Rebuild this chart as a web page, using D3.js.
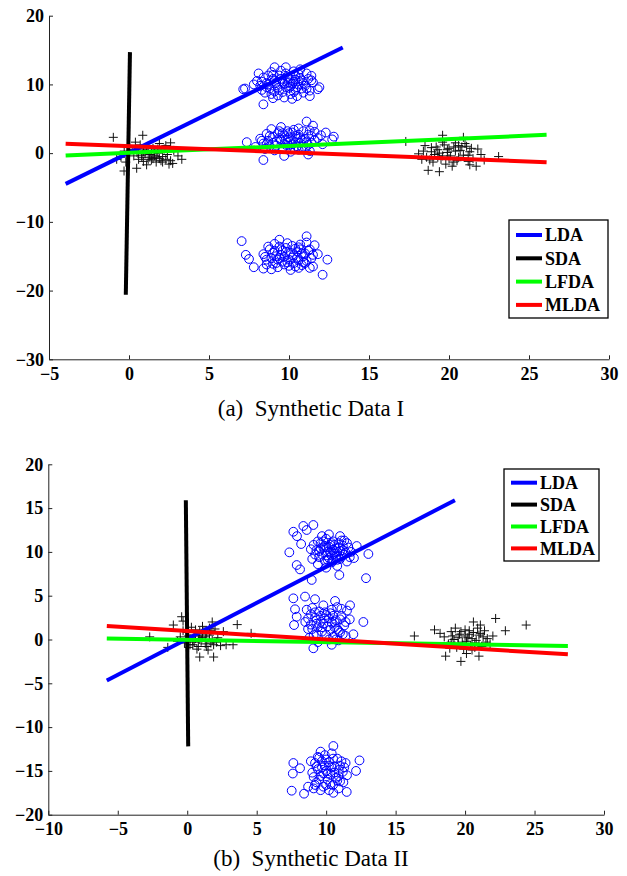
<!DOCTYPE html>
<html lang="en">
  <head>
    <meta charset="UTF-8" />
    <title>Synthetic Data projections</title>
    <script src="https://d3js.org/d3.v7.min.js"></script>
    <style>
      body {
        margin: 0;
        background: #fff;
      }
      .caption {
        font-family: 'Liberation Serif', 'Times New Roman', serif;
        font-size: 23px;
        white-space: pre;
      }
      .legend text {
        font-family: 'Liberation Serif', 'Times New Roman', serif;
        font-weight: bold;
        font-size: 18px;
      }
    </style>
  </head>
  <body>
    <div id="chart"></div>

    <script>
      // ---- shared ----
      const methods = ['LDA', 'SDA', 'LFDA', 'MLDA'];
      const methodColors = ['#0000ff', '#000000', '#00ff00', '#ff0000'];

      // ---- (a) Synthetic Data I ----
      const xTicksA = [-5, 0, 5, 10, 15, 20, 25, 30];
      const yTicksA = [-30, -20, -10, 0, 10, 20];

      const plusA1 = [
        [-0.98, 2.3], [0.86, 2.6], [-0.31, -2.6], [-0.77, -0.9], [3.06, -0.4], [0.48, -2.2], [2.73, -1.5],
        [0.2, 0.5], [0.5, 0.1], [0.8, -0.3], [1.1, 0.4], [1.3, -0.6], [1.6, 0.2], [1.9, -0.8], [2.2, 0.6],
        [2.4, -0.2], [0.6, -0.9], [0.9, -1.2], [1.4, -1.0], [1.7, -1.3], [2.0, -1.1], [2.5, -1.6], [1.2, 1.0],
        [0.7, 1.2], [1.9, 1.4], [2.3, 1.1], [0.3, -0.4], [-0.3, 0.3], [-0.5, -0.6], [1.0, -0.1], [1.5, 0.7],
        [2.8, 0.4], [2.6, 1.5], [0.4, 1.6], [1.8, 0.0], [1.1, -1.7], [2.1, -0.5], [0.0, 1.1], [-0.2, -1.3],
        [3.3, -0.9], [1.6, -0.4], [0.9, 0.6],
        [0.6, 0.3], [1.3, -0.2], [1.8, 0.6], [2.1, -1.3], [1.5, -0.8], [0.8, -0.6], [2.3, -0.9], [1.2, -0.9],
        [0.9, 0.2], [1.7, -0.6], [2.6, -1.1], [1.4, 0.4],
      ];
      const plusA2 = [
        [17.3, 1.7], [23.1, -0.5], [18.7, -2.5], [19.4, -2.7], [21.7, -1.9], [19.6, 2.6], [20.9, 2.3], [21.3, -1.7],
        [18.1, -0.1], [18.4, 0.3], [18.6, -0.6], [18.9, 0.8], [19.1, -0.2], [19.3, 0.5], [19.5, -0.9], [19.7, 1.2],
        [19.9, 0.1], [20.1, -0.4], [20.3, 0.9], [20.5, -1.1], [20.7, 0.4], [20.9, -0.3], [21.1, 1.0], [21.3, 0.2],
        [21.5, -0.8], [19.0, -1.3], [19.8, -1.6], [20.4, 1.5], [18.5, 1.1], [21.8, 0.6], [22.0, -0.2], [19.4, 0.0],
        [20.0, 0.7], [20.6, -0.6], [18.8, -1.0], [21.2, -1.2], [19.6, 1.6], [20.2, -1.9], [18.3, -0.9], [21.0, 1.4],
        [22.2, -1.0],
        [18.9, 0.2], [19.2, 0.9], [19.6, -0.4], [20.0, -0.8], [20.4, 0.3], [20.8, 0.9], [21.2, -0.3], [19.3, -0.6],
        [20.6, 1.1], [21.4, 0.7], [19.9, 0.5], [20.3, -1.3],
      ];
      const circA1 = [
        [7.14, 9.3], [8.4, 7.1], [9.1, 12.5], [9.8, 12.5], [11.8, 9.3], [11.4, 11.25], [11.9, 9.6], [7.25, 9.4],
        [8.0, 10.5], [8.2, 9.8], [8.4, 11.0], [8.6, 10.2], [8.8, 9.4], [9.0, 10.8], [9.2, 9.9], [9.4, 11.3],
        [9.6, 10.4], [9.8, 9.6], [10.0, 10.9], [10.2, 10.1], [10.4, 9.2], [10.6, 11.5], [10.8, 10.6], [11.0, 9.8],
        [11.2, 10.8], [9.3, 8.4], [9.7, 8.1], [10.1, 8.6], [10.5, 8.3], [10.9, 8.8], [11.3, 9.1], [8.5, 8.8],
        [8.1, 11.6], [9.5, 12.0], [10.3, 11.9], [10.7, 12.2], [11.1, 11.6], [7.8, 10.0], [8.9, 11.8], [9.9, 10.2],
        [10.0, 9.5], [9.1, 9.0], [10.6, 10.0], [11.5, 10.3], [8.3, 9.2], [9.6, 8.9], [10.4, 10.7], [8.7, 11.3],
        [11.3, 8.3], [10.2, 7.9], [9.0, 8.0],
        [8.3, 10.4], [8.7, 10.0], [9.1, 10.5], [9.3, 9.5], [9.5, 10.8], [9.7, 10.1], [9.9, 11.1], [10.1, 9.7],
        [10.3, 10.4], [10.5, 9.6], [10.7, 10.9], [10.9, 10.2], [11.1, 9.4], [9.0, 11.4], [9.8, 11.6], [10.4, 11.3],
        [8.6, 9.6], [9.4, 9.2], [10.8, 9.4], [11.4, 10.6], [9.2, 10.2], [10.0, 10.3], [10.6, 10.5], [8.9, 8.6],
        [10.3, 8.9],
      ];
      const circA2 = [
        [7.36, 1.6], [8.4, -1.0], [9.7, -0.4], [11.2, -0.2], [12.7, 2.0], [11.1, 4.6], [12.8, 2.4], [7.9, 0.9],
        [8.2, 2.1], [8.4, 1.4], [8.6, 2.8], [8.8, 1.0], [9.0, 2.4], [9.2, 1.7], [9.4, 3.2], [9.6, 0.8],
        [9.8, 2.0], [10.0, 2.9], [10.2, 1.3], [10.4, 2.5], [10.6, 3.6], [10.8, 1.9], [11.0, 0.7], [11.2, 2.7],
        [11.4, 1.5], [11.6, 3.1], [11.8, 2.2], [9.1, 0.4], [9.5, 3.8], [10.1, 0.2], [10.5, 1.0], [10.9, 3.2],
        [9.3, 2.9], [9.9, 1.5], [10.3, 3.4], [10.7, 2.2], [11.3, 0.3], [8.9, 3.5], [8.5, 0.6], [12.1, 1.3],
        [12.3, 3.0], [11.5, 4.0], [9.7, 2.6], [10.0, 1.1], [10.6, 0.5], [11.1, 1.7], [8.7, 1.8],
        [8.3, 1.8], [8.8, 2.5], [9.2, 1.1], [9.4, 2.2], [9.6, 2.9], [9.8, 1.2], [10.0, 2.3], [10.2, 3.0],
        [10.4, 1.6], [10.6, 2.7], [10.8, 0.9], [11.0, 2.1], [11.2, 1.2], [11.4, 2.5], [11.6, 1.9], [9.0, 1.5],
        [9.5, 1.9], [10.1, 2.0], [10.7, 1.5], [11.3, 3.3], [9.9, 3.2], [10.5, 2.1], [8.6, 1.3], [12.0, 2.6],
        [10.3, 0.8],
      ];
      const circA3 = [
        [7.04, -12.8], [7.3, -14.8], [7.5, -15.4], [7.8, -16.6], [8.4, -16.8], [12.4, -15.5], [12.1, -17.7],
        [11.1, -12.1], [9.4, -12.6], [10.6, -16.7],
        [8.4, -14.7], [8.6, -15.5], [8.8, -14.0], [9.0, -16.1], [9.2, -15.0], [9.4, -13.6], [9.6, -15.8],
        [9.8, -14.4], [10.0, -16.4], [10.2, -15.2], [10.4, -13.9], [10.6, -15.6], [10.8, -14.6], [11.0, -16.0],
        [11.2, -14.2], [11.4, -15.3], [11.6, -13.4], [9.1, -13.2], [9.9, -13.1], [10.7, -13.3], [11.5, -16.5],
        [9.3, -16.6], [10.1, -17.0], [8.9, -16.9], [11.8, -14.7], [9.5, -14.8], [10.3, -14.9], [10.9, -15.9],
        [9.7, -16.2], [10.5, -14.3], [8.7, -13.6], [11.1, -13.0], [9.0, -14.5], [10.0, -15.5], [11.3, -16.7],
        [9.4, -15.3],
        [8.5, -15.1], [8.9, -15.3], [9.1, -14.2], [9.3, -15.5], [9.5, -14.0], [9.7, -15.1], [9.9, -15.9],
        [10.1, -14.5], [10.3, -16.0], [10.5, -15.2], [10.7, -14.0], [10.9, -15.0], [11.1, -15.7], [11.3, -14.0],
        [11.5, -14.8], [9.8, -13.8], [10.4, -16.5], [10.8, -16.3], [9.2, -16.0], [10.6, -13.7], [11.0, -14.6],
        [9.6, -14.2], [10.2, -13.5], [8.6, -16.2],
      ];
      // projection directions, as two end points each (LDA, SDA, LFDA, MLDA)
      const linesA = [
        [[-3.96, -4.47], [13.36, 15.37]],
        [[-0.2, -20.6], [0.06, 14.7]],
        [[-3.96, -0.35], [26.1, 2.66]],
        [[-3.96, 1.35], [26.1, -1.31]],
      ];

      // ---- (b) Synthetic Data II ----
      const xTicksB = [-10, -5, 0, 5, 10, 15, 20, 25, 30];
      const yTicksB = [-20, -15, -10, -5, 0, 5, 10, 15, 20];

      const plusB1 = [
        [-0.4, 2.6], [-1.0, 1.65], [3.6, 1.7], [4.6, 0.7], [1.8, 2.0], [0.9, -2.0], [1.9, -2.0], [3.3, -0.6],
        [2.8, -0.6], [-1.4, -0.9], [-2.7, 0.3], [-0.3, 2.1],
        [-0.5, 0.3], [-0.2, -0.4], [0.0, 0.8], [0.2, 0.1], [0.4, -0.6], [0.6, 1.1], [0.8, 0.4], [1.0, -0.2],
        [1.2, 0.9], [1.4, -0.8], [1.6, 0.5], [1.8, -0.1], [2.0, 1.2], [0.3, 1.4], [0.7, -1.1], [1.1, 1.5],
        [1.5, -1.2], [0.1, -0.9], [0.9, 0.0], [1.3, 0.3], [-0.3, 1.0], [2.2, 0.2], [2.4, -0.7], [1.7, 1.0],
        [0.5, 0.5], [1.9, -0.6], [-0.7, -0.2], [1.0, 0.7], [0.4, -0.1], [2.6, 0.9],
        [0.1, 0.4], [0.5, -0.3], [0.9, 0.9], [1.1, 0.2], [1.4, 0.8], [1.7, -0.4], [0.2, -0.6], [0.6, 0.1],
        [1.3, -0.5], [0.8, -0.8], [2.1, -0.3], [1.6, 1.3],
      ];
      const plusB2 = [
        [16.35, 0.4], [22.2, 2.4], [22.9, 1.0], [24.4, 1.65], [21.1, 1.65], [20.6, 2.0], [17.8, 1.1], [18.6, -1.9],
        [19.7, -2.5], [21.0, -1.9], [20.1, -1.6],
        [18.5, 0.3], [18.8, -0.5], [19.0, 0.9], [19.2, 0.0], [19.4, -0.9], [19.6, 0.6], [19.8, -0.3], [20.0, 1.1],
        [20.2, 0.2], [20.4, -0.7], [20.6, 0.8], [20.8, -0.1], [21.0, 0.5], [21.2, -0.8], [21.4, 1.0], [21.6, 0.1],
        [19.3, 1.3], [20.9, 1.3], [19.9, -1.1], [20.5, -1.2], [18.2, 0.7], [21.8, -0.5], [22.0, 0.4], [20.3, 0.6],
        [19.5, 0.2], [20.7, -0.4], [18.9, -1.0], [21.3, 0.3],
        [19.1, 0.4], [19.5, -0.5], [19.7, 0.9], [20.1, -0.2], [20.3, 1.0], [20.5, 0.1], [20.7, -0.9], [21.1, 0.7],
        [21.5, -0.3], [19.0, -0.3], [20.0, 0.4], [21.0, -0.6],
      ];
      const circB1 = [
        [7.64, 12.3], [8.36, 12.96], [9.08, 13.07], [7.35, 9.95], [7.88, 8.5], [8.12, 8.0], [8.96, 6.8],
        [10.95, 7.36], [12.87, 7.0], [13.04, 9.76], [12.2, 10.67], [7.9, 11.8], [8.6, 12.5], [8.2, 10.9],
        [9.3, 10.2], [9.5, 9.4], [9.6, 11.0], [9.8, 10.5], [9.9, 9.0], [10.0, 11.5], [10.1, 10.0], [10.2, 9.3],
        [10.3, 10.8], [10.4, 8.8], [10.5, 11.2], [10.6, 9.8], [10.7, 10.4], [10.8, 9.1], [10.9, 11.0],
        [11.0, 10.1], [11.1, 9.5], [11.2, 10.7], [11.4, 9.9], [11.6, 10.5], [9.4, 8.6], [9.7, 11.8], [10.2, 12.0],
        [11.0, 11.8], [11.5, 8.9], [9.2, 9.7], [10.5, 10.2], [9.9, 10.7], [10.8, 8.4], [11.3, 11.3], [8.9, 10.3],
        [9.0, 9.2], [10.4, 9.6], [11.8, 10.0], [10.0, 8.2], [12.0, 9.3],
        [9.5, 10.1], [9.7, 9.7], [9.8, 11.2], [10.0, 10.5], [10.1, 9.1], [10.3, 9.9], [10.4, 11.0], [10.6, 10.8],
        [10.7, 9.5], [10.9, 10.5], [11.0, 9.2], [11.2, 10.2], [11.3, 9.7], [11.5, 11.0], [9.6, 10.4], [10.2, 10.6],
        [10.8, 10.0], [9.4, 11.2], [11.1, 11.3], [10.5, 9.0], [9.1, 10.8], [11.7, 9.4], [10.0, 9.6],
      ];
      const circB2 = [
        [7.64, 4.7], [7.76, 3.45], [8.48, 4.9], [9.2, 4.6], [10.64, 4.4], [11.72, 3.9], [12.68, 2.0], [11.96, 0.6],
        [9.08, -1.0], [10.4, -0.6], [7.88, 2.6], [7.69, 1.65],
        [8.5, 2.0], [8.7, 1.2], [8.9, 2.9], [9.1, 0.5], [9.3, 1.8], [9.5, 3.2], [9.7, 0.9], [9.9, 2.4],
        [10.1, 1.5], [10.3, 3.0], [10.5, 0.3], [10.7, 2.2], [10.9, 1.0], [11.1, 2.7], [11.3, 1.6], [11.5, 3.3],
        [9.0, 3.6], [9.6, 2.0], [10.2, 0.0], [10.8, 3.7], [11.4, 0.4], [9.4, -0.3], [10.0, 2.8], [10.6, 1.4],
        [11.0, 0.8], [8.8, 0.2], [9.8, 3.9], [10.4, 1.9], [11.7, 2.3], [9.2, 2.5], [10.9, -0.1], [8.6, 3.4],
        [8.7, 2.4], [9.0, 1.2], [9.2, 3.1], [9.4, 1.4], [9.6, 2.7], [9.8, 1.8], [10.0, 0.5], [10.2, 2.4],
        [10.4, 3.4], [10.6, 2.0], [10.8, 1.2], [11.0, 2.3], [11.2, 0.6], [11.4, 2.0], [9.3, 0.6], [9.9, 3.1],
        [10.5, 2.7], [11.1, 3.5], [8.9, 1.7], [10.3, 1.1], [10.7, 0.0], [9.7, 1.4],
      ];
      const circB3 = [
        [7.64, -14.1], [7.6, -15.3], [7.52, -17.26], [8.12, -14.7], [8.41, -17.6], [10.52, -12.16], [12.4, -13.8],
        [12.15, -15.0], [11.48, -17.4], [10.52, -17.5], [11.24, -16.3], [8.7, -16.8],
        [9.0, -15.2], [9.2, -14.1], [9.3, -16.3], [9.5, -13.5], [9.6, -15.6], [9.7, -14.6], [9.8, -16.8],
        [9.9, -13.2], [10.0, -15.0], [10.1, -16.0], [10.2, -14.0], [10.3, -15.4], [10.4, -13.0], [10.5, -16.6],
        [10.6, -14.5], [10.7, -15.8], [10.8, -13.6], [10.9, -14.9], [11.0, -16.2], [11.1, -13.9], [9.1, -17.0],
        [9.4, -14.8], [10.2, -17.2], [10.9, -17.0], [11.3, -14.6], [9.6, -12.8], [10.0, -13.7], [8.9, -13.9],
        [11.5, -15.5], [9.8, -15.3],
        [9.1, -15.7], [9.3, -14.5], [9.5, -16.0], [9.7, -13.9], [9.9, -14.4], [10.1, -15.3], [10.3, -16.5],
        [10.4, -14.6], [10.6, -15.2], [10.8, -16.1], [11.0, -14.4], [11.2, -15.1], [9.4, -13.4], [10.0, -16.6],
        [10.5, -13.6], [10.9, -15.6], [9.2, -16.6], [10.2, -14.4], [11.4, -14.1], [9.6, -17.2],
      ];
      const linesB = [
        [[-5.79, -4.68], [19.27, 15.9]],
        [[0.07, -12.2], [-0.1, 15.9]],
        [[-5.79, 0.1], [27.4, -0.74]],
        [[-5.79, 1.54], [27.4, -1.69]],
      ];

      const width = 627;
      const height = 876;

      const svg = d3
        .select('#chart')
        .append('svg')
        .attr('width', width)
        .attr('height', height);

      function styleAxis(sel) {
        sel
          .attr('font-family', "'Liberation Serif', 'Times New Roman', serif")
          .attr('font-weight', 'bold')
          .attr('font-size', 18);
        sel.selectAll('.domain, .tick line').attr('stroke', '#222').attr('stroke-width', 1);
        sel.selectAll('.tick text').attr('fill', '#000');
      }

      function drawPanel(p) {
        const x = d3.scaleLinear().domain(p.xDomain).range(p.xRange);
        const y = d3.scaleLinear().domain(p.yDomain).range(p.yRange);
        const g = svg.append('g');

        // axes (MATLAB style: box off, ticks inside)
        g.append('g')
          .attr('transform', `translate(0,${p.yRange[0]})`)
          .call(
            d3.axisBottom(x).tickValues(p.xTicks).tickSize(-4).tickSizeOuter(0).tickPadding(8)
          )
          .call(styleAxis);
        g.append('g')
          .attr('transform', `translate(${p.xRange[0]},0)`)
          .call(
            d3.axisLeft(y).tickValues(p.yTicks).tickSize(-4).tickSizeOuter(0).tickPadding(5)
          )
          .call(styleAxis);

        // circles
        p.circles.forEach((set) => {
          g.append('g')
            .selectAll('circle')
            .data(set)
            .enter()
            .append('circle')
            .attr('cx', (d) => x(d[0]))
            .attr('cy', (d) => y(d[1]))
            .attr('r', 4.4)
            .attr('fill', 'none')
            .attr('stroke', '#0000ff')
            .attr('stroke-width', 1);
        });

        // plus markers
        p.pluses.forEach((set) => {
          g.append('g')
            .selectAll('path')
            .data(set)
            .enter()
            .append('path')
            .attr('d', (d) => {
              const cx = x(d[0]);
              const cy = y(d[1]);
              return `M${cx - 4.5},${cy}H${cx + 4.5}M${cx},${cy - 4.5}V${cy + 4.5}`;
            })
            .attr('stroke', '#111')
            .attr('stroke-width', 1)
            .attr('fill', 'none');
        });

        // projection lines
        const line = d3
          .line()
          .x((d) => x(d[0]))
          .y((d) => y(d[1]));
        g.append('g')
          .selectAll('path')
          .data(p.lines)
          .enter()
          .append('path')
          .attr('d', line)
          .attr('stroke', (d, i) => methodColors[i])
          .attr('stroke-width', 4)
          .attr('fill', 'none');

        // legend
        const lg = g.append('g').attr('class', 'legend');
        lg.append('rect')
          .attr('x', p.legend.x)
          .attr('y', p.legend.y)
          .attr('width', p.legend.w)
          .attr('height', p.legend.h)
          .attr('fill', '#fff')
          .attr('stroke', '#000')
          .attr('stroke-width', 1.3);
        methods.forEach((m, i) => {
          const cy = p.legend.y + p.legend.first + i * p.legend.step;
          lg.append('line')
            .attr('x1', p.legend.x + 7)
            .attr('x2', p.legend.x + 33)
            .attr('y1', cy)
            .attr('y2', cy)
            .attr('stroke', methodColors[i])
            .attr('stroke-width', 4);
          lg.append('text')
            .attr('x', p.legend.x + 36)
            .attr('y', cy)
            .attr('dy', '0.35em')
            .text(m);
        });

        // caption
        svg.append('text')
          .attr('class', 'caption')
          .attr('x', p.caption.x)
          .attr('y', p.caption.y)
          .attr('text-anchor', 'middle')
          .text(p.caption.text);
      }

      drawPanel({
        xDomain: [-5, 30],
        yDomain: [-30, 20],
        xRange: [49, 609],
        yRange: [359.3, 15.7],
        xTicks: xTicksA,
        yTicks: yTicksA,
        circles: [circA1, circA2, circA3],
        pluses: [plusA1, plusA2],
        lines: linesA,
        legend: { x: 509, y: 220, w: 99, h: 98, first: 15, step: 23.3 },
        caption: { x: 311, y: 416, text: '(a)  Synthetic Data I' },
      });

      drawPanel({
        xDomain: [-10, 30],
        yDomain: [-20, 20],
        xRange: [48.3, 604],
        yRange: [814.7, 464.3],
        xTicks: xTicksB,
        yTicks: yTicksB,
        circles: [circB1, circB2, circB3],
        pluses: [plusB1, plusB2],
        lines: linesB,
        legend: { x: 504, y: 469, w: 95, h: 92, first: 13.7, step: 21.9 },
        caption: { x: 311, y: 866, text: '(b)  Synthetic Data II' },
      });
    </script>
  </body>
</html>
